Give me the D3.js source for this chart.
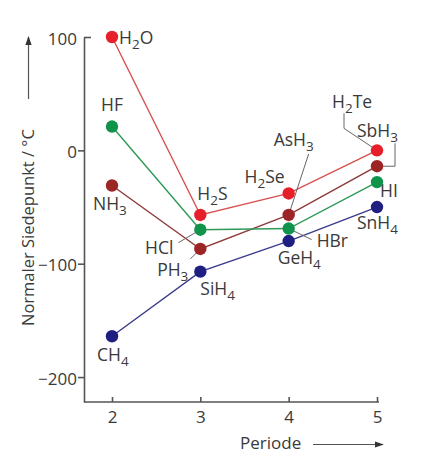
<!DOCTYPE html>
<html>
<head>
<meta charset="utf-8">
<script src="https://cdn.jsdelivr.net/npm/d3@7"></script>
<style>
  html, body { margin: 0; padding: 0; background: #fff; }
  svg text { font-family: "Open Sans", "Noto Sans", sans-serif; fill: #3a3a3a; }
</style>
</head>
<body>
<svg id="chart" width="421" height="467"></svg>
<script>
// ---- data ----
const periods = [2, 3, 4, 5];
const yTicks = [100, 0, -100, -200];

const group14Names = ["CH4", "SiH4", "GeH4", "SnH4"];
const group14Values = [-164, -107, -80, -50];
const group15Names = ["NH3", "PH3", "AsH3", "SbH3"];
const group15Values = [-31, -87, -57, -14];
const group16Names = ["H2O", "H2S", "H2Se", "H2Te"];
const group16Values = [100, -57, -38, 0];
const group17Names = ["HF", "HCl", "HBr", "HI"];
const group17Values = [21, -70, -69, -28];

// ---- styles / layout (not data) ----
const seriesStyle = [
  { names: group14Names, values: group14Values, dot: "#1f1f82", line: "#3b3b8c" },
  { names: group15Names, values: group15Values, dot: "#9c2626", line: "#8e3a3a" },
  { names: group17Names, values: group17Values, dot: "#10934a", line: "#2f9a58" },
  { names: group16Names, values: group16Values, dot: "#e6202a", line: "#d95050" }
];
// label offsets relative to point: dx, dy, anchor, optional leader (relative points)
const labelLayout = {
  "H2O":  { dx: 7,   dy: 7,   anchor: "start" },
  "HF":   { dx: 0,   dy: -16, anchor: "middle" },
  "NH3":  { dx: -19, dy: 25,  anchor: "start" },
  "CH4":  { dx: -15, dy: 25,  anchor: "start" },
  "H2S":  { dx: -3,  dy: -15, anchor: "start" },
  "H2Se": { dx: -4,  dy: -10, anchor: "end" },
  "H2Te": { dx: -45, dy: -42, anchor: "start", leader: [[-33, -37], [-33, -22], [0, 0]] },
  "SbH3": { dx: -20, dy: -29, anchor: "start", leader: [[18, -23], [18, 0], [0, 0]] },
  "AsH3": { dx: -15, dy: -69, anchor: "start", leader: [[20, -61], [0, 0]] },
  "HI":   { dx: 3,   dy: 15,  anchor: "start" },
  "SnH4": { dx: -20, dy: 22,  anchor: "start" },
  "HBr":  { dx: 28,  dy: 18,  anchor: "start", leader: [[0, 0], [23, 11]] },
  "GeH4": { dx: -11, dy: 23,  anchor: "start" },
  "SiH4": { dx: 0,   dy: 23,  anchor: "start" },
  "HCl":  { dx: -27, dy: 24,  anchor: "end", leader: [[-22, 13], [0, 0]] },
  "PH3":  { dx: -12, dy: 27,  anchor: "end", leader: [[-10, 10], [0, 0]] }
};

const svg = d3.select("#chart");
const x = d3.scaleLinear().domain([1.683, 5]).range([84, 377]);
const y = d3.scaleLinear().domain([-222, 100]).range([402, 37]);
const axisColor = "#555";

// arrow marker
svg.append("defs").append("marker")
  .attr("id", "arr").attr("viewBox", "0 0 10 10").attr("refX", 9).attr("refY", 5)
  .attr("markerWidth", 9).attr("markerHeight", 9).attr("markerUnits", "userSpaceOnUse")
  .attr("orient", "auto")
  .append("path").attr("d", "M0,1.5 L10,5 L0,8.5 Z").attr("fill", "#333");

// Y axis
const yAxis = svg.append("g").attr("transform", "translate(84,0)")
  .call(d3.axisLeft(y).tickValues(yTicks).tickSizeInner(6).tickSizeOuter(0).tickPadding(7)
    .tickFormat(d => d < 0 ? "\u2212" + Math.abs(d) : String(d)));
yAxis.select(".domain").attr("stroke", axisColor).attr("stroke-width", 1.6);
yAxis.selectAll(".tick line").attr("stroke", axisColor).attr("stroke-width", 1.6)
  .attr("x2", d => d === 100 ? 7 : -6);
yAxis.selectAll(".tick text").attr("font-size", 17).attr("fill", "#3a3a3a")
  .attr("x", -7).attr("dy", "0.42em").style("font-family", "'Open Sans', sans-serif");

// X axis
const xAxis = svg.append("g").attr("transform", "translate(0,402)")
  .call(d3.axisBottom(x).tickValues(periods).tickSizeInner(-5).tickSizeOuter(0)
    .tickFormat(d3.format("d")));
xAxis.select(".domain").attr("stroke", axisColor).attr("stroke-width", 1.6)
  .attr("d", `M84,0H${x(5) + 2}`);
xAxis.selectAll(".tick line").attr("stroke", axisColor).attr("stroke-width", 1.6);
xAxis.selectAll(".tick text").attr("font-size", 17).attr("fill", "#3a3a3a")
  .attr("y", 21).attr("dy", 0).style("font-family", "'Open Sans', sans-serif");

// axis titles
svg.append("text").attr("transform", "translate(34,326) rotate(-90)")
  .attr("font-size", 16.5).attr("text-anchor", "start")
  .text("Normaler Siedepunkt / \u00B0C");
svg.append("line").attr("x1", 28.5).attr("x2", 28.5).attr("y1", 99).attr("y2", 37)
  .attr("stroke", "#555").attr("stroke-width", 1.2).attr("marker-end", "url(#arr)");

svg.append("text").attr("x", 240).attr("y", 449).attr("font-size", 17).text("Periode");
svg.append("line").attr("x1", 313).attr("x2", 383).attr("y1", 444.5).attr("y2", 444.5)
  .attr("stroke", "#555").attr("stroke-width", 1.2).attr("marker-end", "url(#arr)");

// lines
const lineGen = d3.line().x(d => x(d[0])).y(d => y(d[1]));
const linesG = svg.append("g");
seriesStyle.forEach(s => {
  linesG.append("path")
    .datum(periods.map((p, i) => [p, s.values[i]]))
    .attr("d", lineGen).attr("fill", "none")
    .attr("stroke", s.line).attr("stroke-width", 1.4);
});

// leaders + labels
const leadG = svg.append("g");
const labG = svg.append("g");
function formula(textSel, str) {
  const parts = str.match(/[A-Za-z]+|[0-9]+/g);
  let lowered = false;
  parts.forEach(p => {
    const isNum = /^[0-9]+$/.test(p);
    const t = textSel.append("tspan").text(p);
    if (isNum) { t.attr("font-size", 13.5).attr("dy", lowered ? 0 : 5); lowered = true; }
    else { if (lowered) t.attr("dy", -5); lowered = false; }
  });
}
seriesStyle.forEach(s => {
  s.names.forEach((name, i) => {
    const px = x(periods[i]), py = y(s.values[i]);
    const L = labelLayout[name];
    if (L.leader) {
      leadG.append("path")
        .attr("d", d3.line()(L.leader.map(q => [px + q[0], py + q[1]])))
        .attr("fill", "none").attr("stroke", "#666").attr("stroke-width", 1);
    }
    const t = labG.append("text").attr("x", px + L.dx).attr("y", py + L.dy)
      .attr("font-size", 17.5).attr("text-anchor", L.anchor);
    formula(t, name);
  });
});

// points
const ptsG = svg.append("g");
seriesStyle.forEach(s => {
  ptsG.selectAll(null).data(periods.map((p, i) => [p, s.values[i]])).enter()
    .append("circle").attr("cx", d => x(d[0])).attr("cy", d => y(d[1]))
    .attr("r", 6.2).attr("fill", s.dot);
});
</script>
</body>
</html>
